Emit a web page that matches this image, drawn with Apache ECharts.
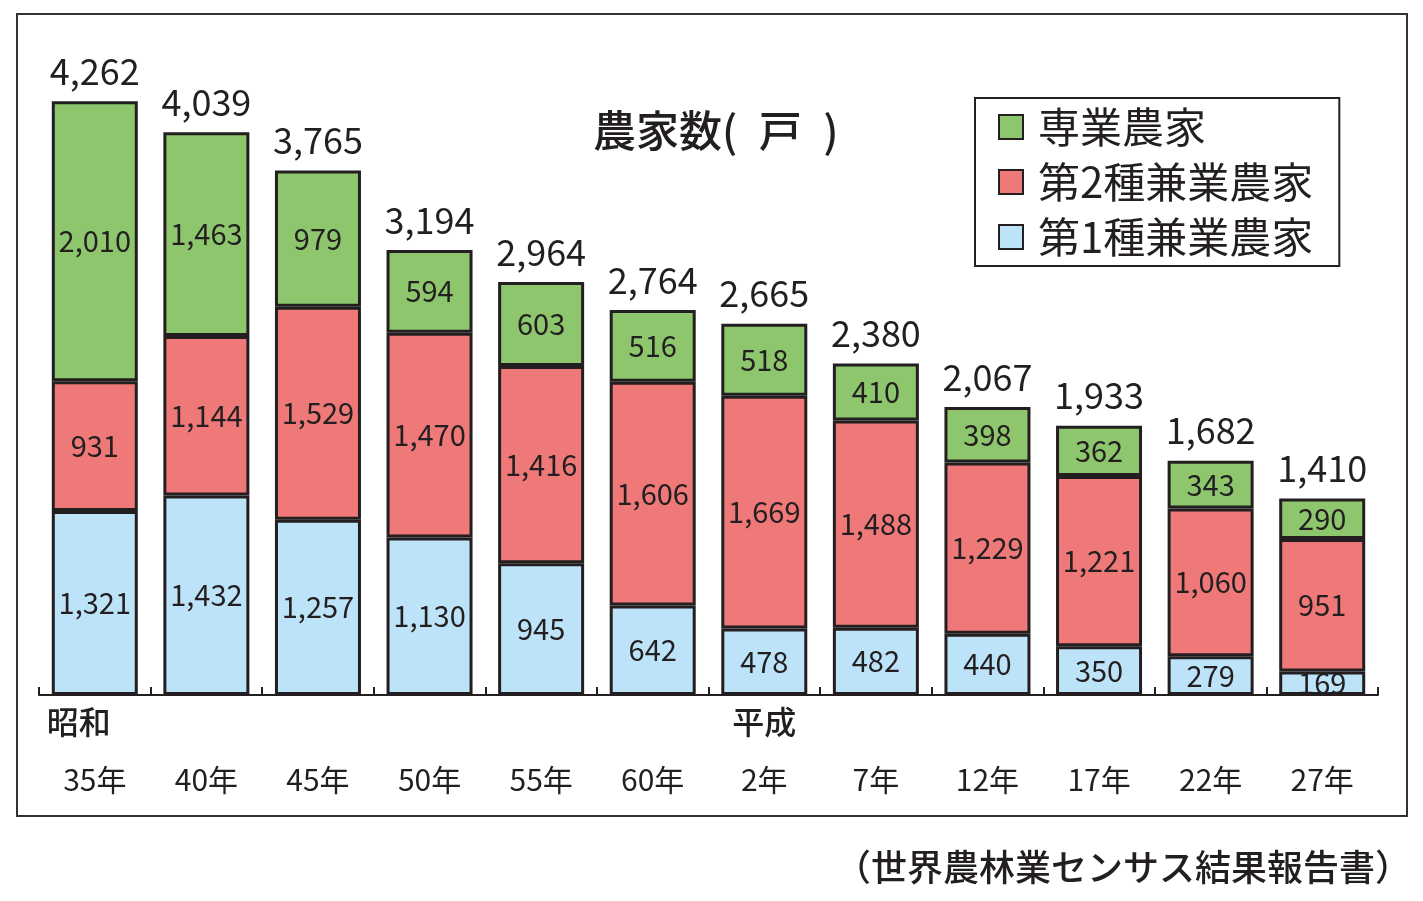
<!DOCTYPE html>
<html>
<head>
<meta charset="utf-8">
<script src="https://cdn.jsdelivr.net/npm/echarts@6/dist/echarts.min.js"></script>
<style>
  html, body { margin: 0; padding: 0; background: #fff; }
  #chart { width: 1423px; height: 901px; }
</style>
</head>
<body>
<div id="chart"></div>
<script>
var years = ['35年', '40年', '45年', '50年', '55年', '60年', '2年', '7年', '12年', '17年', '22年', '27年'];
var eras = ['昭和', '', '', '', '', '', '平成', '', '', '', '', ''];
var sengyo = [2010, 1463, 979, 594, 603, 516, 518, 410, 398, 362, 343, 290];
var dai2 = [931, 1144, 1529, 1470, 1416, 1606, 1669, 1488, 1229, 1221, 1060, 951];
var dai1 = [1321, 1432, 1257, 1130, 945, 642, 478, 482, 440, 350, 279, 169];
var totals = [4262, 4039, 3765, 3194, 2964, 2764, 2665, 2380, 2067, 1933, 1682, 1410];

var font = '"Noto Sans CJK JP", "Noto Sans", sans-serif';
var ink = '#231f20';
var fmt = function (v) { return v.toLocaleString('en-US'); };

var chart = echarts.init(document.getElementById('chart'));

function seg(name, data, color) {
    return {
        name: name,
        type: 'bar',
        stack: 'farm',
        barWidth: 86,
        data: data,
        itemStyle: { color: color, borderColor: ink, borderWidth: 3 },
        label: {
            show: true,
            position: 'inside',
            formatter: function (p) { return fmt(p.value); },
            fontFamily: font,
            fontSize: 29,
            color: ink
        }
    };
}

chart.setOption({
    animation: false,
    textStyle: { fontFamily: font },
    title: {
        text: '農家数(\u2002戸\u2002)',
        left: 588,
        top: 104,
        textStyle: { fontFamily: font, fontSize: 43, fontWeight: 500, color: ink }
    },
    legend: {
        orient: 'vertical',
        left: 975,
        top: 98,
        padding: [8, 26, 8, 23],
        itemGap: 13,
        backgroundColor: '#fff',
        borderColor: ink,
        borderWidth: 2,
        icon: 'rect',
        itemWidth: 24,
        itemHeight: 24,
        data: ['専業農家', '第2種兼業農家', '第1種兼業農家'],
        textStyle: { fontFamily: font, fontSize: 42, lineHeight: 40, color: ink, padding: [0, 0, 0, 10] }
    },
    grid: { left: 39, right: 45, top: 68, bottom: 206 },
    xAxis: {
        type: 'category',
        data: years,
        axisLine: { lineStyle: { color: ink, width: 2 } },
        axisTick: { show: true, inside: true, length: 8, lineStyle: { color: ink, width: 2 } },
        axisLabel: {
            interval: 0,
            margin: 8,
            formatter: function (v, i) {
                var e = eras[i] ? (i === 0 ? '{eraL|' + eras[i] + '}' : '{era|' + eras[i] + '}') : '{era|}';
                return e + '\n{yr|' + v + '}';
            },
            rich: {
                era: { fontFamily: font, fontSize: 32, fontWeight: 500, color: ink, lineHeight: 38 },
                eraL: { fontFamily: font, fontSize: 32, fontWeight: 500, color: ink, lineHeight: 38, padding: [0, 32, 0, 0] },
                yr: { fontFamily: font, fontSize: 30, color: ink, lineHeight: 78 }
            }
        }
    },
    yAxis: {
        type: 'value',
        min: 0,
        max: 4500,
        show: false,
        splitLine: { show: false }
    },
    series: [
        seg('第1種兼業農家', dai1, '#bde3f8'),
        seg('第2種兼業農家', dai2, '#ef7878'),
        seg('専業農家', sengyo, '#8dc66c'),
        {
            name: 'total',
            type: 'bar',
            barWidth: 86,
            barGap: '-100%',
            data: totals,
            z: 1,
            silent: true,
            itemStyle: { color: 'rgba(0,0,0,0)' },
            label: {
                show: true,
                position: 'top',
                distance: 12,
                formatter: function (p) { return fmt(p.value); },
                fontFamily: font,
                fontSize: 36,
                color: ink
            }
        }
    ],
    graphic: [
        {
            type: 'rect',
            shape: { x: 17, y: 14, width: 1390, height: 802 },
            style: { fill: 'none', stroke: '#333', lineWidth: 2 },
            silent: true
        },
        {
            type: 'text',
            right: 12,
            top: 849,
            style: { text: '（世界農林業センサス結果報告書）', fontFamily: font, fontSize: 36, fontWeight: 500, fill: ink }
        }
    ]
});
</script>
</body>
</html>
